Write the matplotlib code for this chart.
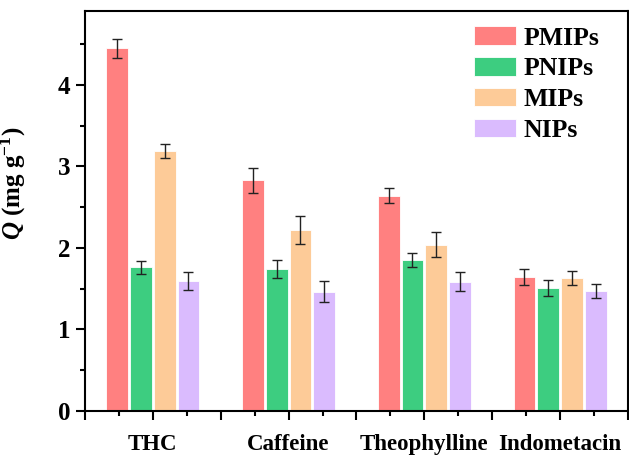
import matplotlib
matplotlib.use("Agg")
import matplotlib.pyplot as plt
import numpy as np
from matplotlib.ticker import MultipleLocator, FixedLocator, FuncFormatter

categories = ["THC", "Caffeine", "Theophylline", "Indometacin"]
series = ["PMIPs", "PNIPs", "MIPs", "NIPs"]
pmips = [4.45, 2.83, 2.64, 1.64]
pmips_err = [0.12, 0.15, 0.09, 0.10]
pnips = [1.76, 1.745, 1.85, 1.51]
pnips_err = [0.08, 0.11, 0.09, 0.10]
mips = [3.19, 2.22, 2.04, 1.63]
mips_err = [0.09, 0.17, 0.15, 0.085]
nips = [1.59, 1.46, 1.585, 1.47]
nips_err = [0.11, 0.13, 0.12, 0.09]

colors = ["#FF8080", "#3DCD80", "#FDCB98", "#DABBFE"]

plt.rcParams['font.family'] = ['Liberation Serif', 'DejaVu Serif']
plt.rcParams['font.weight'] = 'bold'
plt.rcParams['mathtext.fontset'] = 'custom'
plt.rcParams['mathtext.it'] = 'Liberation Serif:italic:bold'
plt.rcParams['mathtext.rm'] = 'Liberation Serif:bold'
plt.rcParams['mathtext.bf'] = 'Liberation Serif:bold'

fig = plt.figure(figsize=(6.29, 4.55), dpi=100)
ax = fig.add_axes([0.1351, 0.0974, 0.8633, 0.8785])

centers = np.array([2, 6, 10, 14])
pitch = 0.7
width = 0.64
data = [(pmips, pmips_err), (pnips, pnips_err), (mips, mips_err), (nips, nips_err)]
for i, (vals, errs) in enumerate(data):
    x = centers + (i - 1.5) * pitch
    ax.bar(x, vals, width=width, color=colors[i], edgecolor='white', linewidth=0.6,
           label=series[i], zorder=2)
    ax.errorbar(x, vals, yerr=errs, fmt='none', ecolor='#222222', elinewidth=1.0,
                capsize=3.5, capthick=1.0, zorder=3)

ax.set_xlim(0, 16)
ax.set_ylim(0, 4.91)

label_map = dict(zip(centers.tolist(), categories))
ax.xaxis.set_major_locator(FixedLocator(list(range(0, 17, 2))))
ax.xaxis.set_minor_locator(FixedLocator(list(range(1, 16, 2))))
ax.xaxis.set_major_formatter(FuncFormatter(lambda v, p: label_map.get(int(round(v)), "")))

ax.yaxis.set_major_locator(MultipleLocator(1))
ax.yaxis.set_minor_locator(MultipleLocator(0.5))
ax.tick_params(axis='both', which='major', direction='out', length=6.5, width=1.5)
ax.tick_params(axis='both', which='minor', direction='out', length=3.5, width=1.5)
ax.tick_params(axis='y', which='major', labelsize=18, pad=4)
ax.tick_params(axis='x', which='major', labelsize=16.5, pad=10)
for lab in ax.get_yticklabels() + ax.get_xticklabels():
    lab.set_fontweight('bold')
for s in ax.spines.values():
    s.set_linewidth(1.5)

ax.set_ylabel(r"$Q$ (mg g$^{\mathregular{-1}}$)", fontsize=18, fontweight='bold', labelpad=6)
ax.yaxis.set_label_coords(-0.105, 0.57)

leg = ax.legend(loc='upper right', bbox_to_anchor=(0.976, 1.0), frameon=False,
                prop={'family': 'Liberation Serif', 'weight': 'bold', 'size': 18.5},
                handlelength=1.65, handleheight=0.72, handletextpad=0.3,
                labelspacing=0.3, borderaxespad=0.2)

fig.savefig("out.png", dpi=100)
